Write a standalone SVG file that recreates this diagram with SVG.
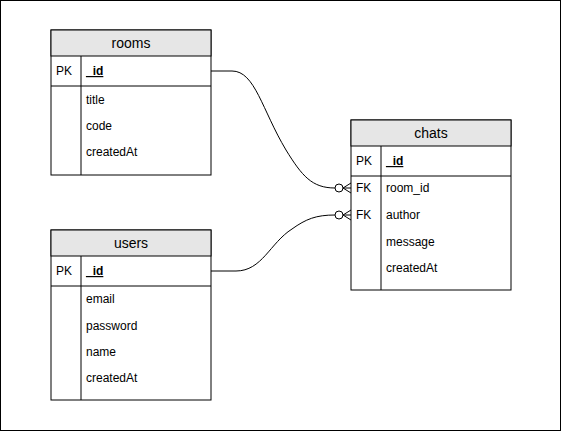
<svg xmlns="http://www.w3.org/2000/svg" width="561" height="431" viewBox="0 0 561 431">
<style>
.box{fill:#fff;stroke:#000;stroke-width:1}
.hdr{fill:#e6e6e6;stroke:#000;stroke-width:1}
.ln{stroke:#000;stroke-width:1;fill:none}
.t{font-family:"Liberation Sans",Arial,sans-serif;font-size:12px;fill:#000}
.h{font-family:"Liberation Sans",Arial,sans-serif;font-size:14px;fill:#000;text-anchor:middle}
.b{font-weight:bold;text-decoration:underline}
</style>
<rect x="0.5" y="0.5" width="560" height="430" fill="#fff" stroke="#000"/>
<g id="connectors">
<path class="ln" d="M211 71 H232 C255 71 262 110 286 150 C302 176 312 188 335 188"/>
<circle class="ln" cx="339" cy="188" r="4"/>
<path class="ln" d="M343 188 L351 183 M343 188 L351 188 M343 188 L351 193"/>
<path class="ln" d="M211 271 H236 C262 271 270 243 292 229 C306 219 316 215 335 215"/>
<circle class="ln" cx="339" cy="215" r="4"/>
<path class="ln" d="M343 215 L351 210 M343 215 L351 215 M343 215 L351 220"/>
</g>
<g id="rooms">
<rect class="box" x="51" y="30" width="160" height="145"/>
<rect class="hdr" x="51" y="30" width="160" height="26"/>
<line class="ln" x1="51" y1="86" x2="211" y2="86"/>
<line class="ln" x1="81" y1="56" x2="81" y2="175"/>
<text class="h" x="131" y="48">rooms</text>
<text class="t" x="56" y="75">PK</text>
<text class="t b" x="86" y="75">_id</text>
<text class="t" x="86" y="104">title</text>
<text class="t" x="86" y="130">code</text>
<text class="t" x="86" y="156">createdAt</text>
</g>
<g id="chats">
<rect class="box" x="351" y="120" width="160" height="170"/>
<rect class="hdr" x="351" y="120" width="160" height="26"/>
<line class="ln" x1="351" y1="176" x2="511" y2="176"/>
<line class="ln" x1="381" y1="146" x2="381" y2="290"/>
<text class="h" x="431" y="138">chats</text>
<text class="t" x="356" y="165">PK</text>
<text class="t b" x="386" y="165">_id</text>
<text class="t" x="356" y="192">FK</text>
<text class="t" x="386" y="192">room_id</text>
<text class="t" x="356" y="219">FK</text>
<text class="t" x="386" y="219">author</text>
<text class="t" x="386" y="246">message</text>
<text class="t" x="386" y="272">createdAt</text>
</g>
<g id="users">
<rect class="box" x="51" y="230" width="160" height="170"/>
<rect class="hdr" x="51" y="230" width="160" height="26"/>
<line class="ln" x1="51" y1="286" x2="211" y2="286"/>
<line class="ln" x1="81" y1="256" x2="81" y2="400"/>
<text class="h" x="131" y="248">users</text>
<text class="t" x="56" y="275">PK</text>
<text class="t b" x="86" y="275">_id</text>
<text class="t" x="86" y="303">email</text>
<text class="t" x="86" y="330">password</text>
<text class="t" x="86" y="356">name</text>
<text class="t" x="86" y="382">createdAt</text>
</g>
</svg>
